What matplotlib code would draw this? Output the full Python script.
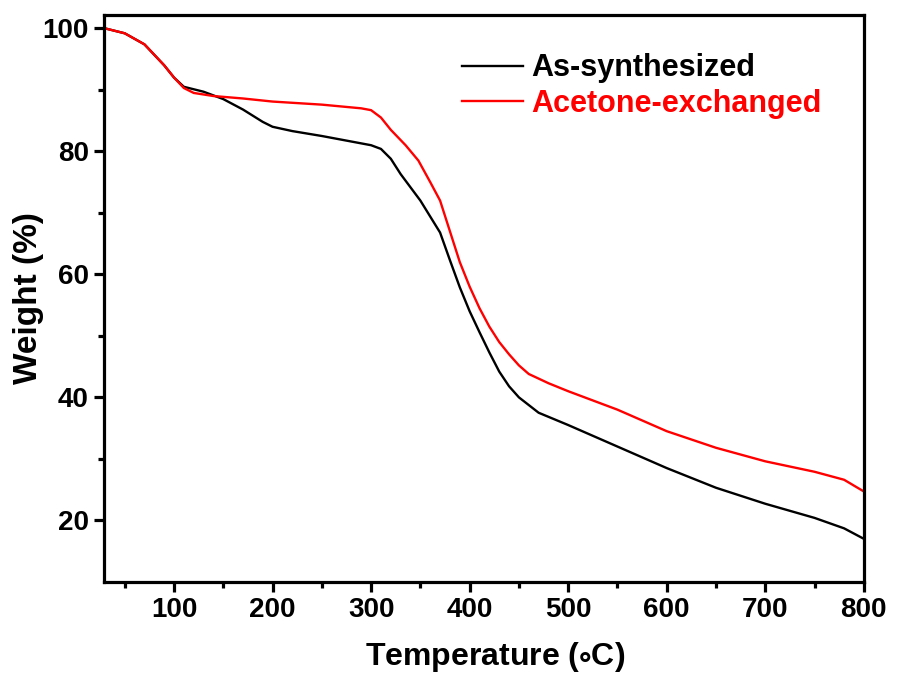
import matplotlib.pyplot as plt
import numpy as np
plt.switch_backend('Agg')

plt.rcParams['font.family'] = ['Liberation Sans', 'DejaVu Sans']
plt.rcParams['font.weight'] = 'bold'
plt.rcParams['mathtext.default'] = 'regular'

# TGA curves
temp_as = [30, 50, 70, 90, 100, 110, 130, 150, 170, 190, 200, 220, 250, 280, 300, 310,
           320, 330, 350, 370, 380, 390, 400, 410, 420, 430, 440, 450, 470, 500, 550,
           600, 650, 700, 750, 780, 800]
weight_as = [100, 99.2, 97.4, 94.0, 92.0, 90.5, 89.7, 88.5, 86.8, 84.8, 84.0, 83.3, 82.5,
             81.6, 81.0, 80.4, 78.8, 76.3, 72.0, 66.8, 62.3, 57.9, 54.0, 50.6, 47.3, 44.2,
             41.8, 40.0, 37.5, 35.5, 32.0, 28.5, 25.3, 22.7, 20.4, 18.7, 17.0]

temp_ac = [30, 50, 70, 90, 100, 110, 120, 140, 170, 200, 250, 290, 300, 310, 320, 335,
           348, 360, 370, 383, 390, 400, 410, 420, 430, 440, 450, 460, 480, 500, 550, 600,
           650, 700, 750, 780, 800]
weight_ac = [100, 99.2, 97.4, 94.0, 92.0, 90.3, 89.5, 89.0, 88.6, 88.1, 87.6, 87.0, 86.7,
             85.5, 83.5, 81.0, 78.5, 75.0, 72.0, 65.5, 62.0, 58.0, 54.5, 51.5, 49.0, 47.0,
             45.2, 43.8, 42.3, 41.0, 38.0, 34.5, 31.8, 29.6, 27.9, 26.6, 24.7]

fig = plt.figure(figsize=(8.97, 6.75), dpi=100)
ax = fig.add_axes([0.116, 0.138, 0.847, 0.84])

ax.plot(temp_as, weight_as, color='black', lw=1.7, label='As-synthesized')
ax.plot(temp_ac, weight_ac, color='#ff0000', lw=1.7, label='Acetone-exchanged')

ax.set_xlim(29, 800)
ax.set_ylim(10, 102.2)
ax.set_xticks([100, 200, 300, 400, 500, 600, 700, 800])
ax.set_xticks(np.arange(50, 800, 100), minor=True)
ax.set_yticks([20, 40, 60, 80, 100])
ax.set_yticks([30, 50, 70, 90], minor=True)

for s in ax.spines.values():
    s.set_linewidth(2.3)
ax.tick_params(which='major', direction='out', length=7, width=2.3, labelsize=20, pad=4)
ax.tick_params(which='minor', direction='out', length=4, width=2.3)

ax.set_xlabel(r'Temperature ($\circ$C)', fontsize=23, fontweight='bold', va='top')
ax.set_ylabel('Weight (%)', fontsize=24, fontweight='bold', va='center')
ax.xaxis.set_label_coords(0.515, -0.102)
ax.yaxis.set_label_coords(-0.099, 0.5)

ax.legend(loc='upper left', bbox_to_anchor=(0.471, 0.932), frameon=False, fontsize=22,
          handlelength=2.0, handletextpad=0.26, labelspacing=0.18, borderpad=0,
          borderaxespad=0, labelcolor='linecolor')

plt.savefig('out.png')
